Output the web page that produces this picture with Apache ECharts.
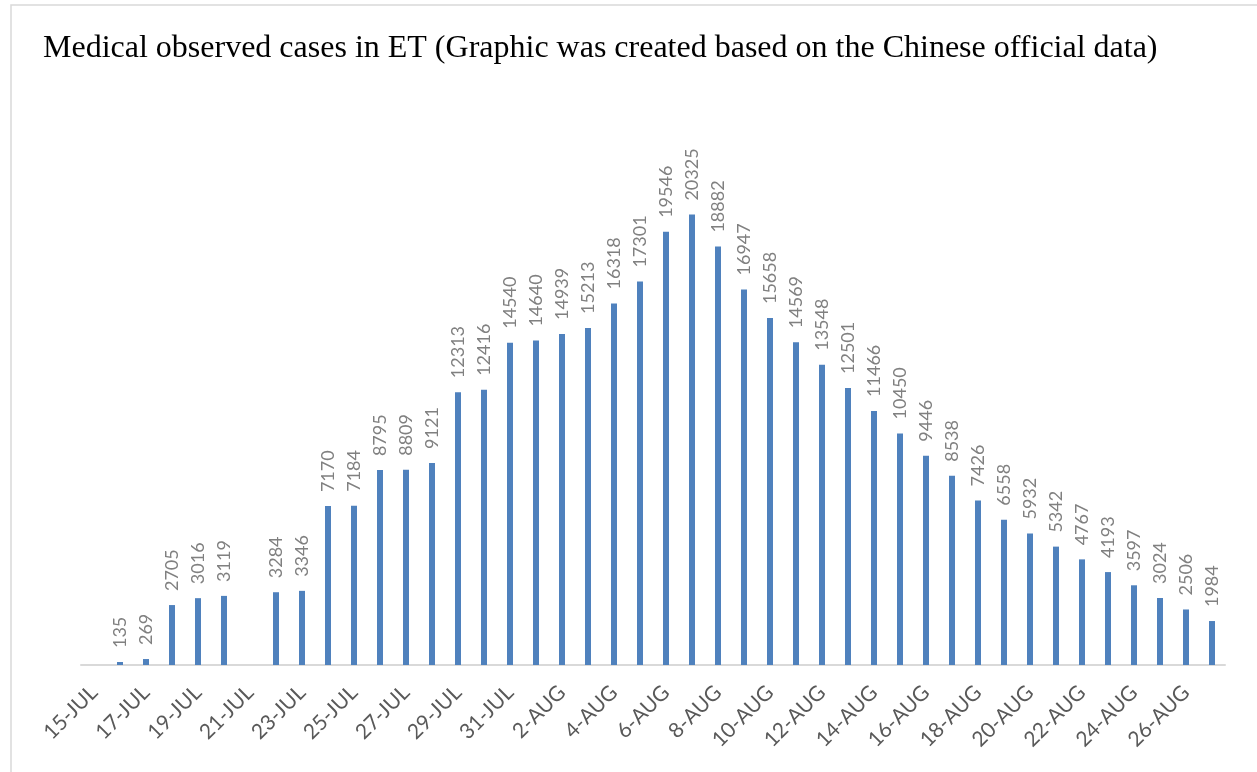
<!DOCTYPE html>
<html>
<head>
<meta charset="utf-8">
<style>
  html, body { margin: 0; padding: 0; background: #fff; }
  #chart { width: 1257px; height: 772px; }
</style>
<script src="https://cdn.jsdelivr.net/npm/echarts@6/dist/echarts.min.js"></script>
</head>
<body>
<div id="chart"></div>
<script>
// one category per day, 15-JUL .. 27-AUG
const days = [
    '15-JUL', '16-JUL', '17-JUL', '18-JUL', '19-JUL', '20-JUL', '21-JUL', '22-JUL',
    '23-JUL', '24-JUL', '25-JUL', '26-JUL', '27-JUL', '28-JUL', '29-JUL', '30-JUL',
    '31-JUL', '1-AUG', '2-AUG', '3-AUG', '4-AUG', '5-AUG', '6-AUG', '7-AUG',
    '8-AUG', '9-AUG', '10-AUG', '11-AUG', '12-AUG', '13-AUG', '14-AUG', '15-AUG',
    '16-AUG', '17-AUG', '18-AUG', '19-AUG', '20-AUG', '21-AUG', '22-AUG', '23-AUG',
    '24-AUG', '25-AUG', '26-AUG', '27-AUG'
];

// observed cases (null = no figure reported that day)
const observedCases = [
    null, 135, 269, 2705, 3016, 3119, null, 3284,
    3346, 7170, 7184, 8795, 8809, 9121, 12313, 12416,
    14540, 14640, 14939, 15213, 16318, 17301, 19546, 20325,
    18882, 16947, 15658, 14569, 13548, 12501, 11466, 10450,
    9446, 8538, 7426, 6558, 5932, 5342, 4767, 4193,
    3597, 3024, 2506, 1984
];

const titleText = 'Medical observed cases in ET (Graphic was created based on the Chinese official data)';

const chart = echarts.init(document.getElementById('chart'));

const options = {
    animation: false,
    backgroundColor: '#ffffff',
    title: {
        text: titleText,
        left: 38,
        top: 28,
        textStyle: {
            fontFamily: 'Liberation Serif',
            fontWeight: 'normal',
            fontSize: 32,
            color: '#000000'
        }
    },
    graphic: [{
        type: 'rect',
        silent: true,
        shape: { x: 11, y: 5, width: 1400, height: 900 },
        style: { fill: 'none', stroke: '#d9d9d9', lineWidth: 1.5 }
    }],
    grid: {
        left: 81,
        right: 32,
        top: 111,
        bottom: 107,
        containLabel: false,
        outerBoundsMode: 'none'
    },
    xAxis: {
        type: 'category',
        data: days,
        boundaryGap: true,
        axisLine: { lineStyle: { color: '#d9d9d9', width: 2 } },
        axisTick: {
            interval: 1,
            length: 7,
            lineStyle: { color: '#d9d9d9', width: 2 }
        },
        axisLabel: {
            interval: 1,
            rotate: 45,
            margin: 24,
            color: '#595959',
            fontFamily: 'Lato',
            fontSize: 21
        }
    },
    yAxis: {
        type: 'value',
        show: false,
        min: 0,
        max: 25000,
        splitLine: { show: false }
    },
    series: [{
        type: 'bar',
        data: observedCases,
        barWidth: 6,
        itemStyle: { color: '#4f81bd' },
        label: {
            show: true,
            position: 'top',
            rotate: 90,
            align: 'left',
            verticalAlign: 'middle',
            distance: 14,
            color: '#808080',
            fontFamily: 'Lato',
            fontSize: 18
        }
    }]
};

chart.setOption(options);
</script>
</body>
</html>
